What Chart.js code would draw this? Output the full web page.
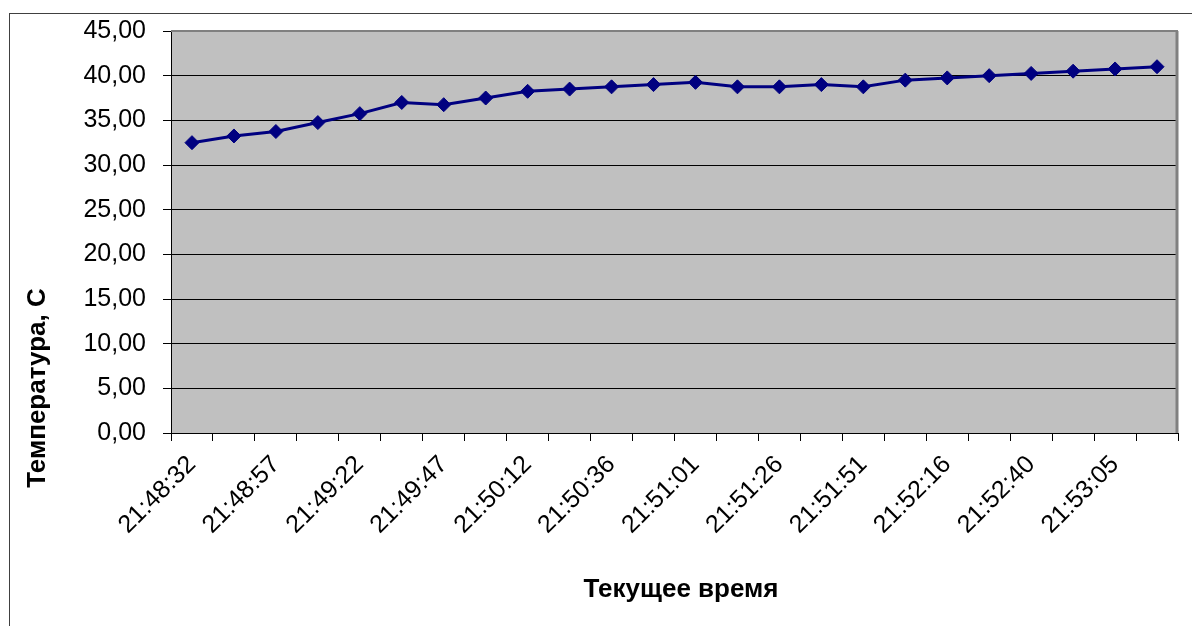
<!DOCTYPE html>
<html>
<head>
<meta charset="utf-8">
<script src="https://cdn.jsdelivr.net/npm/chart.js@4/dist/chart.umd.min.js"></script>
<style>
  html, body { margin: 0; padding: 0; background: #ffffff; overflow: hidden; }
  #wrap { width: 1192px; height: 626px; position: relative; }
</style>
</head>
<body>
<div id="wrap"><canvas id="c" width="1192" height="626"></canvas></div>
<script>
const categories = [
  "21:48:32","21:48:44","21:48:57","21:49:09","21:49:22","21:49:34",
  "21:49:47","21:49:59","21:50:12","21:50:24","21:50:36","21:50:49",
  "21:51:01","21:51:13","21:51:26","21:51:38","21:51:51","21:52:03",
  "21:52:16","21:52:28","21:52:40","21:52:53","21:53:05","21:53:17"
];
const temperature = [
  32.5, 33.25, 33.75, 34.75, 35.75, 37.0, 36.75, 37.5, 38.25, 38.5, 38.75, 39.0,
  39.25, 38.75, 38.75, 39.0, 38.75, 39.5, 39.75, 40.0, 40.25, 40.5, 40.75, 41.0
];
const yTickValues = [0, 5, 10, 15, 20, 25, 30, 35, 40, 45];
const yTitle = "Температура, С";
const xTitle = "Текущее время";

const FONT = "'Liberation Sans', Arial, sans-serif";

const framePlugin = {
  id: 'frame',
  beforeDraw(chart) {
    const {ctx, chartArea: a} = chart;
    ctx.save();
    ctx.fillStyle = '#ffffff';
    ctx.fillRect(0, 0, chart.width, chart.height);
    ctx.strokeStyle = '#404040';
    ctx.lineWidth = 1;
    ctx.strokeRect(9.5, 13.5, 3000, 3000);
    ctx.fillStyle = '#c0c0c0';
    ctx.fillRect(a.left, a.top, a.right - a.left, a.bottom - a.top);
    ctx.restore();
  },
  beforeDatasetsDraw(chart) {
    const {ctx, chartArea: a} = chart;
    ctx.save();
    ctx.strokeStyle = '#808080';
    ctx.lineWidth = 2;
    ctx.beginPath();
    ctx.moveTo(a.left, a.top);
    ctx.lineTo(a.right, a.top);
    ctx.stroke();
    ctx.lineWidth = 3;
    ctx.beginPath();
    ctx.moveTo(a.right - 1, a.top);
    ctx.lineTo(a.right - 1, a.bottom);
    ctx.stroke();
    ctx.restore();
  },
  afterDraw(chart) {
    const {ctx} = chart;
    ctx.save();
    ctx.fillStyle = '#000000';
    ctx.font = "bold 26px " + FONT;
    ctx.textAlign = 'center';
    ctx.textBaseline = 'alphabetic';
    ctx.fillText(xTitle, 681, 597);
    ctx.translate(45, 388);
    ctx.rotate(-Math.PI / 2);
    ctx.fillText(yTitle, 0, 0);
    ctx.restore();
  }
};

new Chart(document.getElementById('c'), {
  type: 'line',
  data: {
    labels: categories,
    datasets: [{
      data: temperature,
      borderColor: '#000080',
      backgroundColor: '#000080',
      borderWidth: 3,
      pointStyle: 'rectRot',
      pointRadius: 7,
      pointHoverRadius: 7,
      pointBackgroundColor: '#000080',
      pointBorderColor: '#000080',
      pointBorderWidth: 1,
      tension: 0,
      fill: false
    }]
  },
  options: {
    responsive: false,
    animation: false,
    devicePixelRatio: 1,
    layout: { padding: { left: 0, top: 31, right: 14, bottom: 0 } },
    plugins: { legend: { display: false }, tooltip: { enabled: false }, title: { display: false } },
    scales: {
      x: {
        type: 'category',
        offset: true,
        grid: { display: true, offset: true, drawOnChartArea: false, drawTicks: true, tickLength: 8, color: '#000000', lineWidth: 1 },
        border: { display: true, color: '#000000', width: 1 },
        ticks: {
          autoSkip: false,
          maxRotation: 45,
          minRotation: 45,
          padding: 9,
          color: '#000000',
          font: { family: FONT, size: 25 },
          callback: function(v, i) { return i % 2 === 0 ? categories[i] : ''; }
        },
        afterFit(scale) { scale.height = 193; scale.paddingLeft = 0; scale.paddingRight = 0; }
      },
      y: {
        min: 0,
        max: 45,
        afterBuildTicks(scale) { scale.ticks = yTickValues.map(v => ({ value: v })); },
        grid: { display: true, drawOnChartArea: true, drawTicks: true, tickLength: 8, color: '#000000', lineWidth: 1 },
        border: { display: true, color: '#000000', width: 1 },
        ticks: {
          padding: 17,
          color: '#000000',
          font: { family: FONT, size: 25 },
          callback: function(v) { return Number(v).toFixed(2).replace('.', ','); }
        },
        afterFit(scale) { scale.width = 171; scale.paddingTop = 0; scale.paddingBottom = 0; }
      }
    }
  },
  plugins: [framePlugin]
});
</script>
</body>
</html>
